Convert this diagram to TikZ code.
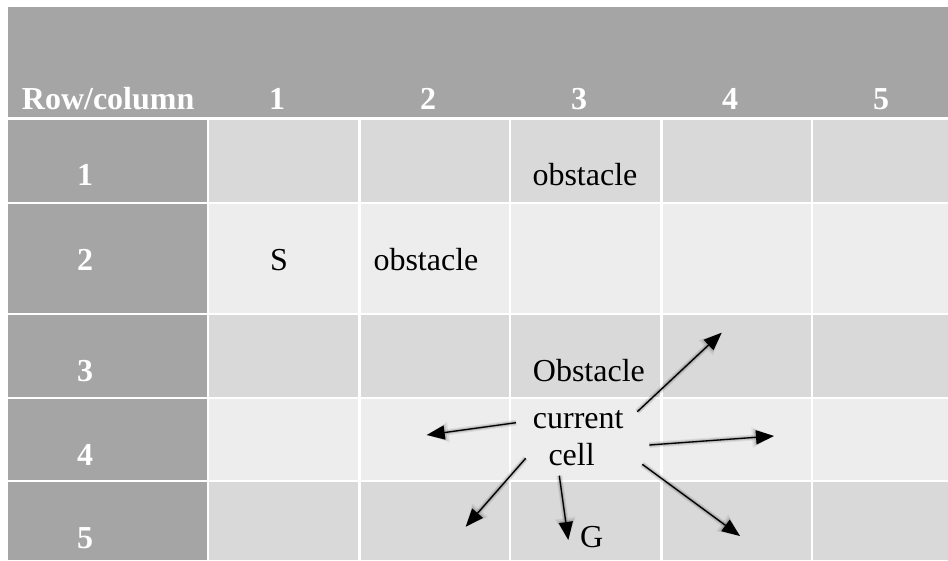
\documentclass[tikz,border=0pt]{standalone}
\usepackage{fontspec}
\setmainfont{Liberation Serif}
\usetikzlibrary{arrows.meta}
\definecolor{hdrgray}{RGB}{165,165,165}
\definecolor{cellA}{RGB}{217,217,217}
\definecolor{cellB}{RGB}{237,237,237}
\tikzset{
  lbl/.style={font=\fontsize{32}{38}\selectfont, inner sep=0pt, text=black},
  hdr/.style={inner sep=0pt, font=\fontsize{32}{38}\selectfont\bfseries, text=white},
  move/.style={draw=black, line width=1.3pt, -{Triangle[length=18pt,width=14pt]}},
  soft/.style={draw=black, fill=black, draw opacity=#1, fill opacity=#1},
}
\begin{document}
\begin{tikzpicture}[x=1pt,y=-1pt]
\useasboundingbox (0,0) rectangle (948,560);
% header band
\fill[hdrgray] (8,7) rectangle (948,117);
% body cells: row top, row bottom, colour
\foreach \yt/\yb/\c in {119.5/202/cellA, 204/313/cellB, 315/397/cellA, 399/480/cellB, 482/560/cellA}{
  \fill[hdrgray] (8,\yt) rectangle (207,\yb);
  \foreach \xl/\xr in {209/358, 360.5/509, 511/660, 662.5/811, 813/948}
    \fill[\c] (\xl,\yt) rectangle (\xr,\yb);
}
% header texts
\node[hdr, anchor=base west] (rc) at (21.7,109.3) {Row/column};
\foreach \n/\x in {1/277, 2/428, 3/579, 4/730, 5/881}
  \node[hdr, anchor=base] (col\n) at (\x,109.3) {\n};
\foreach \n/\y in {1/185, 2/270, 3/381.7, 4/465.7, 5/548}
  \node[hdr, anchor=base] (row\n) at (85,\y) {\n};
% cell contents
\node[lbl, anchor=base west] (obs1) at (532.3,185) {obstacle};
\node[lbl, anchor=base] (start) at (279,270) {S};
\node[lbl, anchor=base west] (obs2) at (373.3,270) {obstacle};
\node[lbl, anchor=base west] (obs3) at (532.7,381.7) {Obstacle};
\node[lbl, anchor=base west] (cur) at (532.7,428.3) {current};
\node[lbl, anchor=base west] (cel) at (548.3,465) {cell};
\node[lbl, anchor=base west] (goal) at (580,547.7) {G};
% arrow ends
\coordinate (t1) at (637.3,411.7); \coordinate (h1) at (721.7,332.7);
\coordinate (t2) at (516,422.7);   \coordinate (h2) at (426.7,435);
\coordinate (t3) at (649.3,445);   \coordinate (h3) at (774,436);
\coordinate (t4) at (525.7,458.3); \coordinate (h4) at (465.7,526.7);
\coordinate (t5) at (559.3,475.7); \coordinate (h5) at (568.3,540);
\coordinate (t6) at (642.3,464.3); \coordinate (h6) at (740,536);
% soft drop shadows of the arrows
\foreach \i in {1,...,6}{
  \begin{scope}[shift={(3,4)}]
    \draw[soft=0.07, line width=6pt, -{Triangle[length=22pt,width=19pt]}] (t\i) -- (h\i);
    \draw[soft=0.10, line width=4pt, -{Triangle[length=20pt,width=16pt]}] (t\i) -- (h\i);
    \draw[soft=0.14, line width=2pt, -{Triangle[length=18pt,width=14pt]}] (t\i) -- (h\i);
  \end{scope}
}
% the moves from the current cell
\foreach \i in {1,...,6}
  \draw[move] (t\i) -- (h\i);
\end{tikzpicture}
\end{document}
